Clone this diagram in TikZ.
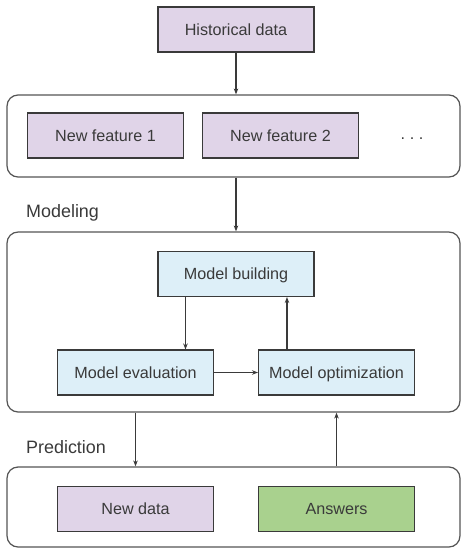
\documentclass[tikz,border=0pt]{standalone}
\usepackage{fontspec}
\setmainfont{Liberation Sans}
\usetikzlibrary{arrows.meta,calc}
\definecolor{lav}{HTML}{E0D4E8}
\definecolor{skyfill}{HTML}{DDEFF8}
\definecolor{leaf}{HTML}{A9D18E}
\definecolor{ink}{HTML}{3A3A3A}
\definecolor{edge}{HTML}{555555}
\tikzset{
  box/.style={draw=ink, line width=0.6pt, minimum width=3.12cm, minimum height=0.9cm,
    inner sep=0pt, text height=7.5pt, text depth=0.9pt, text=ink,
    font=\fontsize{9.2}{11}\selectfont},
  purplebox/.style={box, fill=lav},
  bluebox/.style={box, fill=skyfill},
  greenbox/.style={box, fill=leaf},
  panel/.style={draw=edge, line width=0.7pt, rounded corners=0.22cm, minimum width=9.06cm, inner sep=0pt},
  caption/.style={anchor=west, text=ink, font=\fontsize{10.2}{12}\selectfont},
  arr/.style={draw=ink, line width=0.6pt, -{Stealth[length=0.12cm,width=0.09cm]}}
}
\begin{document}
\begin{tikzpicture}[x=0.02cm,y=-0.02cm]
  \useasboundingbox[fill=white] (0,0) rectangle (462,548);

  % containers
  \node[panel, minimum height=1.64cm] (c1) at (233.5,136) {};
  \node[panel, minimum height=3.6cm]  (c2) at (233.5,322) {};
  \node[panel, minimum height=1.6cm]  (c3) at (233.5,507) {};

  % feature stage
  \node[purplebox] (hist) at (236,29.5) {Historical data};
  \node[purplebox] (nf1) at (105.5,135.5) {New feature 1};
  \node[purplebox] (nf2) at (280.5,135.5) {New feature 2};
  \node[anchor=base, inner sep=0pt, text=ink, font=\fontsize{9.2}{11}\selectfont] (more) at (412,139)
    {.\hspace{2.6pt}.\hspace{2.6pt}.};

  % modeling stage
  \node[caption] (lmod) at (20,213) {Modeling};
  \node[bluebox] (mb) at (236,274) {Model building};
  \node[bluebox] (me) at (135.5,372.5) {Model evaluation};
  \node[bluebox] (mo) at (336.5,372.5) {Model optimization};

  % prediction stage
  \node[caption] (lpred) at (20,447) {Prediction};
  \node[purplebox] (nd) at (135.5,509) {New data};
  \node[greenbox] (ans) at (336.5,509) {Answers};

  % connectors
  \draw[arr] (hist.south) -- (hist.south |- c1.north);
  \draw[arr] (hist.south |- c1.south) -- (hist.south |- c2.north);
  \draw[arr] ([xshift=0.56cm]mb.south west) coordinate (p) -- (p |- me.north);
  \draw[arr] ([xshift=0.58cm]mo.north west) coordinate (q) -- (q |- mb.south);
  \draw[arr] (me.east) -- (mo.west);
  \draw[arr] (me |- c2.south) -- (me |- c3.north);
  \draw[arr] (ans |- c3.north) -- (ans |- c2.south);
\end{tikzpicture}
\end{document}
